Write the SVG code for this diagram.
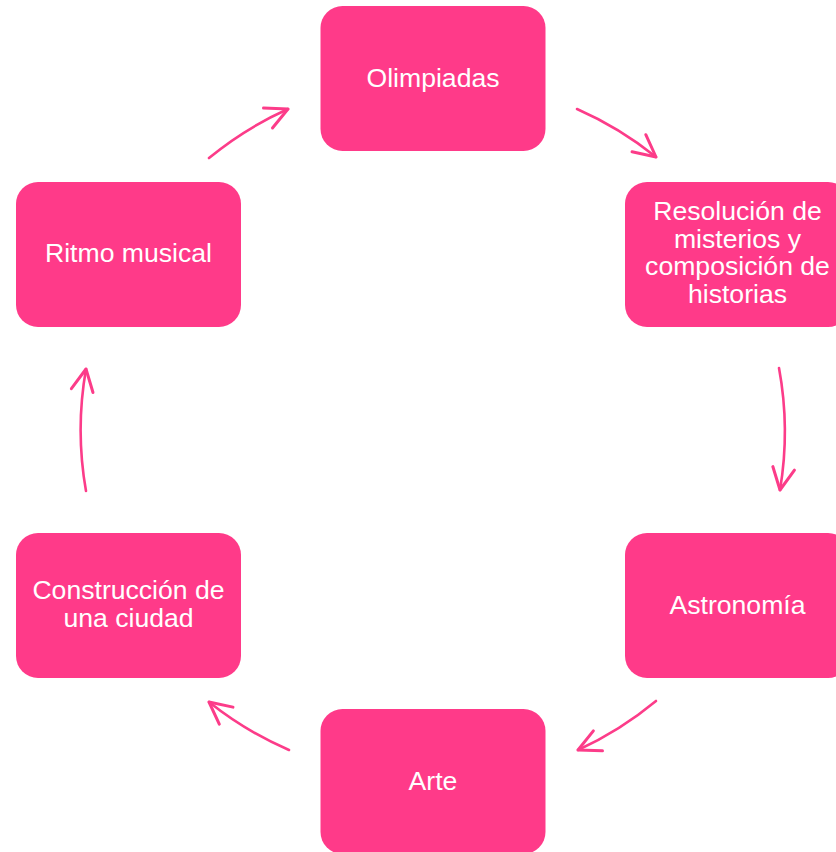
<svg xmlns="http://www.w3.org/2000/svg" width="836" height="852" viewBox="0 0 836 852">
<defs>
<style>
.box{fill:#FF3A89;}
.lbl{font-family:"Liberation Sans",Arial,sans-serif;font-size:26.6px;fill:#FFFFFF;text-anchor:middle;}
.arc{fill:none;stroke:#FC3C89;stroke-width:2.6;stroke-linecap:round;marker-end:url(#ah);}
</style>
<marker id="ah" markerUnits="userSpaceOnUse" markerWidth="30" markerHeight="30" viewBox="-22 -12 26 24" refX="0" refY="0" orient="auto">
<path d="M-19,-9.5 L0,0 L-19,9.5" fill="none" stroke="#FC3C89" stroke-width="2.6" stroke-linecap="round" stroke-linejoin="round"/>
</marker>
</defs>
<rect width="836" height="852" fill="#FFFFFF"/>
<g id="connectors">
<path class="arc" d="M577,109 A351,351 0 0 1 656,157"/>
<path class="arc" d="M779,368 A351,351 0 0 1 780,490"/>
<path class="arc" d="M656,701 A351,351 0 0 1 578,750"/>
<path class="arc" d="M289,750 A351,351 0 0 1 209,702"/>
<path class="arc" d="M86,491 A351,351 0 0 1 86,369"/>
<path class="arc" d="M209,158 A351,351 0 0 1 288,109"/>
</g>
<g id="n-olimpiadas">
<rect class="box" x="320.5" y="6" width="225" height="145" rx="22"/>
<text class="lbl" x="433" y="87">Olimpiadas</text>
</g>
<g id="n-resolucion">
<rect class="box" x="625" y="182" width="225" height="145" rx="22"/>
<text class="lbl" x="737.5" y="220">Resolución de</text>
<text class="lbl" x="737.5" y="247.5">misterios y</text>
<text class="lbl" x="737.5" y="275">composición de</text>
<text class="lbl" x="737.5" y="302.5">historias</text>
</g>
<g id="n-astronomia">
<rect class="box" x="625" y="533" width="225" height="145" rx="22"/>
<text class="lbl" x="737.5" y="614">Astronomía</text>
</g>
<g id="n-arte">
<rect class="box" x="320.5" y="709" width="225" height="145" rx="22"/>
<text class="lbl" x="433" y="790">Arte</text>
</g>
<g id="n-construccion">
<rect class="box" x="16" y="533" width="225" height="145" rx="22"/>
<text class="lbl" x="128.5" y="599">Construcción de</text>
<text class="lbl" x="128.5" y="627">una ciudad</text>
</g>
<g id="n-ritmo">
<rect class="box" x="16" y="182" width="225" height="145" rx="22"/>
<text class="lbl" x="128.5" y="262">Ritmo musical</text>
</g>
</svg>
